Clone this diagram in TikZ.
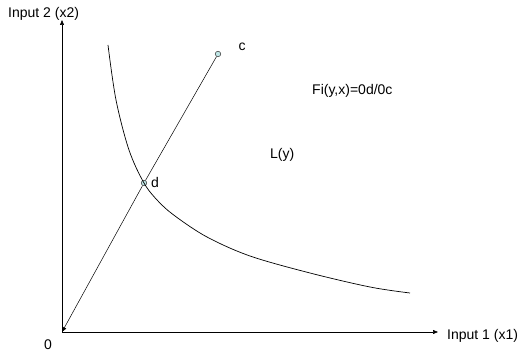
\documentclass[tikz,border=0pt]{standalone}
\usepackage{fontspec}
\setmainfont{Liberation Sans}
\usetikzlibrary{arrows.meta}
\definecolor{dotfill}{HTML}{BFE6E6}
\begin{document}
\begin{tikzpicture}[x=1pt,y=-1pt,
  axis/.style={draw=black,line width=0.6pt,-{Triangle[length=5pt,width=4pt]}},
  ray/.style={draw=black,line width=0.5pt,-{Triangle[length=5pt,width=4pt]}},
  pt/.style={circle,draw=black!80,fill=dotfill,inner sep=0pt,minimum size=5.5pt,line width=0.5pt},
  lbl/.style={font=\fontsize{14}{16}\selectfont,inner sep=0pt}]
\useasboundingbox (0,0) rectangle (520,352);
\coordinate (O) at (62,332);
\coordinate (ytop) at (62,20);
\coordinate (xend) at (438,332);
\draw[axis] (O) -- (ytop);
\draw[axis] (O) -- (xend);
\node[pt] (c) at (218,54) {};
\node[pt] (d) at (144,183) {};
\draw[ray] (c) -- (d) -- (O);
\draw[line width=0.7pt] plot[smooth,tension=0.55] coordinates {(108,45) (116,100) (129,150) (144,183) (158,201) (175,216) (207,237) (250,256) (310,273) (370,287) (410,293)};
\node[lbl,anchor=west] (ylab) at (8,14) {Input 2 (x2)};
\node[lbl,anchor=west] (xlab) at (447,336) {Input 1 (x1)};
\node[lbl] (zero) at (48,345) {0};
\node[lbl] (clab) at (242,47) {c};
\node[lbl] (dlab) at (155,182) {d};
\node[lbl,anchor=west] (fi) at (312,91) {Fi(y,x)=0d/0c};
\node[lbl,anchor=west] (ly) at (270,155) {L(y)};
\end{tikzpicture}
\end{document}
